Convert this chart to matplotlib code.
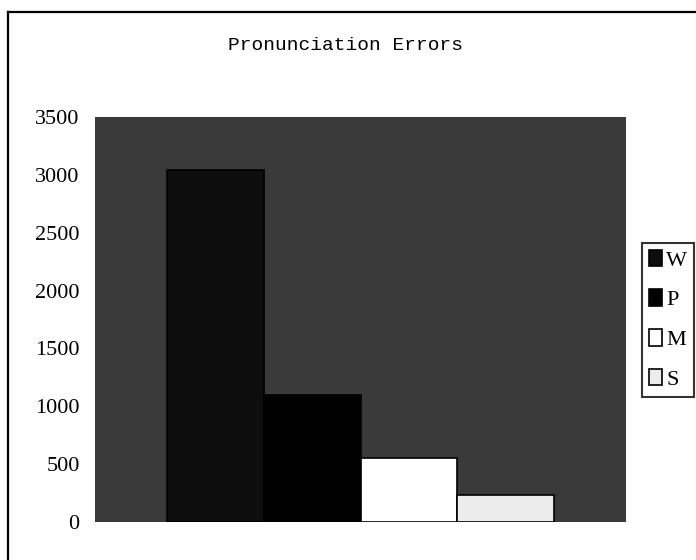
import matplotlib.pyplot as plt
from matplotlib.patches import Patch

# Data
series = ["W", "P", "M", "S"]
errors = [3040, 1100, 550, 235]
y_ticks = [0, 500, 1000, 1500, 2000, 2500, 3000, 3500]

colors = ["#0d0d0d", "#000000", "#ffffff", "#ececec"]

fig = plt.figure(figsize=(6.96, 5.6), dpi=100)

# outer chart border (left and top visible in the scan)
fig.add_artist(plt.Line2D([8/696, 8/696], [0, 1 - 12/560], color="black", lw=1.6,
                          transform=fig.transFigure))
fig.add_artist(plt.Line2D([8/696, 1], [1 - 12/560, 1 - 12/560], color="black", lw=1.6,
                          transform=fig.transFigure))

ax = fig.add_axes([95/696, 1 - 522/560, 531/696, 405/560])
ax.set_facecolor("#3a3a3a")

positions = range(len(series))
bars = ax.bar(positions, errors, width=1.0, color=colors, edgecolor="black", linewidth=1.2)

ax.set_xlim(-1.25, 4.25)
ax.set_ylim(0, 3500)
ax.set_yticks(y_ticks)
ax.set_yticklabels([str(v) for v in y_ticks], fontfamily="Liberation Serif", fontsize=16)
ax.tick_params(axis="y", length=0, pad=11)
ax.set_xticks([])
for s in ax.spines.values():
    s.set_visible(False)

fig.text(0.497, 1 - 45/560, "Pronunciation Errors", ha="center", va="center",
         fontfamily="Liberation Mono", fontsize=14)

handles = [Patch(facecolor=c, edgecolor="black", linewidth=1.2) for c in colors]
leg = fig.legend(handles, series, loc="upper left", bbox_to_anchor=(642/696, 1 - 243/560),
                 bbox_transform=fig.transFigure, borderaxespad=0, frameon=True,
                 fancybox=False, shadow=False, prop={"family": "Liberation Serif", "size": 16},
                 handlelength=0.6, handleheight=0.75, handletextpad=0.2,
                 labelspacing=0.85, borderpad=0.3)
leg.get_frame().set_edgecolor("black")
leg.get_frame().set_linewidth(1.5)

fig.savefig("out.png", dpi=100)
